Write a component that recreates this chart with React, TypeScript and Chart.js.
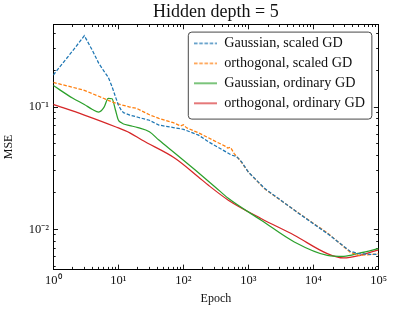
import React, { useEffect, useRef } from 'react';
import { Chart, registerables } from 'chart.js';

Chart.register(...registerables);

const FONT = '"Liberation Serif", "Times New Roman", serif';
const TEXT = '#111111';

// ---- data ----
const GAUSS_SCALED_X = [1, 2, 3, 4, 5, 6, 7, 8, 9, 10, 11, 12, 15, 20, 30, 42, 70, 100, 171, 243, 350, 549, 650, 780, 1000, 1770, 5300, 16900, 36500, 50000, 74000, 100000];
const GAUSS_SCALED_Y = [0.183, 0.29, 0.384, 0.29, 0.228, 0.197, 0.175, 0.147, 0.122, 0.104, 0.095, 0.09, 0.086, 0.0825, 0.078, 0.0712, 0.068, 0.0657, 0.0589, 0.0519, 0.0465, 0.0404, 0.0395, 0.0357, 0.0293, 0.0216, 0.01407, 0.0091, 0.0066, 0.0063, 0.00624, 0.00624];

const ORTHO_SCALED_X = [1, 2, 3, 5, 8, 10, 15, 19, 30, 42, 70, 90, 100, 112, 171, 300, 436, 480, 530, 600, 738, 1000, 1770, 5300, 16900, 36500, 50000, 74000, 100000];
const ORTHO_SCALED_Y = [0.159, 0.145, 0.137, 0.1225, 0.11, 0.106, 0.1, 0.0976, 0.0865, 0.0808, 0.0745, 0.07, 0.0716, 0.0676, 0.0615, 0.0529, 0.0479, 0.0462, 0.0468, 0.0418, 0.0368, 0.0293, 0.0214, 0.0141, 0.0092, 0.0065, 0.0061, 0.0062, 0.0063];

const GAUSS_ORD_X = [1, 2, 3, 4, 5, 6, 7, 8, 9, 10, 11, 12, 15, 20, 30, 42, 75, 152, 307, 489, 1570, 5070, 16300, 29200, 52300, 100000];
const GAUSS_ORD_Y = [0.15, 0.118, 0.105, 0.0955, 0.091, 0.0993, 0.118, 0.117, 0.095, 0.0782, 0.0746, 0.0726, 0.0705, 0.0679, 0.0628, 0.0537, 0.0417, 0.0305, 0.0222, 0.0179, 0.01186, 0.00787, 0.00612, 0.00601, 0.0064, 0.00695];

const ORTHO_ORD_X = [1, 3, 9, 15, 23, 75, 170, 240, 490, 1560, 5060, 16300, 29000, 52000, 100000];
const ORTHO_ORD_Y = [0.105, 0.086, 0.069, 0.0615, 0.0537, 0.038, 0.0268, 0.023, 0.0173, 0.01224, 0.00893, 0.00632, 0.00582, 0.00612, 0.00679];

const SERIES_LABELS = ['Gaussian, scaled GD', 'orthogonal, scaled GD', 'Gaussian, ordinary GD', 'orthogonal, ordinary GD'];
const SERIES_COLORS = ['#1f77b4', '#ff7f0e', '#2ca02c', '#d62728'];

const X_MAJOR = [1, 10, 100, 1000, 10000, 100000];
const X_TICK_LABELS = ['10⁰', '10¹', '10²', '10³', '10⁴', '10⁵'];
const Y_MAJOR = [0.01, 0.1];
const Y_TICK_LABELS = ['10⁻²', '10⁻¹'];
const MINOR_STEPS = [2, 3, 4, 5, 6, 7, 8, 9];

const X_MIN = 1;
const X_MAX = 100000;
const Y_MIN = 0.0047;
const Y_MAX = 0.473;

const LINE_W = 1.25;
const DASH = [3.5, 1.7];

function minorTicks(majors: number[], min: number, max: number) {
  const out: number[] = [];
  const decades = [majors[0] / 10, ...majors];
  for (const d of decades) {
    for (const s of MINOR_STEPS) {
      const v = d * s;
      if (v >= min && v <= max) out.push(v);
    }
  }
  return out;
}

const pts = (xs: number[], ys: number[]) => xs.map((x, i) => ({ x, y: ys[i] }));

const MAJOR_LEN = -4.7;
const MINOR_LEN = -2.4;
const TICK_W = 0.9;

function makeAxis(opts: {
  dir: 'x' | 'y';
  position: string;
  major: boolean;
  labels: boolean;
  size: number;
}) {
  const { dir, position, major, labels, size } = opts;
  const majors = dir === 'x' ? X_MAJOR : Y_MAJOR;
  const names = dir === 'x' ? X_TICK_LABELS : Y_TICK_LABELS;
  const min = dir === 'x' ? X_MIN : Y_MIN;
  const max = dir === 'x' ? X_MAX : Y_MAX;
  const values = major ? majors : minorTicks(majors, min, max);
  return {
    type: 'logarithmic',
    axis: dir,
    position,
    min,
    max,
    bounds: 'data',
    weight: major ? 1 : 0,
    afterBuildTicks: (s: any) => {
      s.ticks = values.map((v) => ({ value: v }));
    },
    afterFit: (s: any) => {
      if (dir === 'x') s.height = size;
      else s.width = size;
    },
    ticks: {
      display: labels,
      autoSkip: false,
      maxRotation: 0,
      minRotation: 0,
      padding: 9,
      color: TEXT,
      font: { family: FONT, size: 12.5 },
      callback: (v: number) => {
        const i = majors.indexOf(v);
        return i >= 0 ? names[i] : '';
      },
    },
    grid: {
      display: true,
      drawOnChartArea: false,
      drawTicks: true,
      tickLength: major ? MAJOR_LEN : MINOR_LEN,
      tickColor: '#000',
      tickWidth: TICK_W,
    },
    border: { display: major, color: '#000', width: 1 },
    title: { display: false },
  };
}

function legendSample(color: string, dash: number[]) {
  const c = document.createElement('canvas');
  c.width = 23;
  c.height = 4;
  const g = c.getContext('2d');
  if (g) {
    g.strokeStyle = color;
    g.lineWidth = LINE_W;
    g.setLineDash(dash);
    g.beginPath();
    g.moveTo(0, 2);
    g.lineTo(23, 2);
    g.stroke();
  }
  return c;
}

const legendFrame = {
  id: 'legendFrame',
  beforeDraw(chart: any) {
    const { ctx, chartArea: ca, legend } = chart;
    ctx.save();
    ctx.fillStyle = '#ffffff';
    ctx.fillRect(0, 0, chart.width, chart.height);
    ctx.restore();
    if (!legend || !ca) return;
    const fw = legend.width - 3;
    legend.left = ca.right - 6.7 - fw;
    legend.right = legend.left + legend.width;
    legend.top = ca.top + 5.8;
    legend.bottom = legend.top + 95;
    const fx = legend.left;
    const fy = legend.top + 1.7;
    const fh = 87;
    const r = 3.5;
    ctx.save();
    ctx.beginPath();
    ctx.moveTo(fx + r, fy);
    ctx.lineTo(fx + fw - r, fy);
    ctx.arcTo(fx + fw, fy, fx + fw, fy + r, r);
    ctx.lineTo(fx + fw, fy + fh - r);
    ctx.arcTo(fx + fw, fy + fh, fx + fw - r, fy + fh, r);
    ctx.lineTo(fx + r, fy + fh);
    ctx.arcTo(fx, fy + fh, fx, fy + fh - r, r);
    ctx.lineTo(fx, fy + r);
    ctx.arcTo(fx, fy, fx + r, fy, r);
    ctx.closePath();
    ctx.fillStyle = 'rgba(255,255,255,0.8)';
    ctx.fill();
    ctx.strokeStyle = '#333333';
    ctx.lineWidth = 0.9;
    ctx.stroke();
    ctx.restore();
  },
};

export default function App() {
  const ref = useRef<HTMLCanvasElement>(null);

  useEffect(() => {
    document.body.style.margin = '0';
    const canvas = ref.current;
    if (!canvas) return;

    const xBottom: any = makeAxis({ dir: 'x', position: 'bottom', major: true, labels: true, size: 41.7 });
    xBottom.title = {
      display: true,
      text: 'Epoch',
      color: TEXT,
      font: { family: FONT, size: 12 },
      padding: { top: 0, bottom: 5 },
    };
    const yLeft: any = makeAxis({ dir: 'y', position: 'left', major: true, labels: true, size: 53.3 });
    yLeft.title = {
      display: true,
      text: 'MSE',
      color: TEXT,
      font: { family: FONT, size: 12 },
      padding: { top: 1.2, bottom: 0 },
    };

    const specs = [
      { data: pts(GAUSS_SCALED_X, GAUSS_SCALED_Y), dash: DASH, tension: 0 },
      { data: pts(ORTHO_SCALED_X, ORTHO_SCALED_Y), dash: DASH, tension: 0 },
      { data: pts(GAUSS_ORD_X, GAUSS_ORD_Y), dash: [] as number[], tension: 0.4 },
      { data: pts(ORTHO_ORD_X, ORTHO_ORD_Y), dash: [] as number[], tension: 0.4 },
    ];
    const samples = specs.map((s, i) => legendSample(SERIES_COLORS[i], s.dash));

    const datasets = specs.map((d, i) => ({
      label: SERIES_LABELS[i],
      data: d.data,
      borderColor: SERIES_COLORS[i],
      backgroundColor: SERIES_COLORS[i],
      borderWidth: LINE_W,
      borderDash: d.dash,
      tension: d.tension,
      cubicInterpolationMode: d.tension > 0 ? 'monotone' : 'default',
      pointRadius: 0,
      pointHitRadius: 0,
      fill: false,
      xAxisID: 'x',
      yAxisID: 'y',
    }));

    const defaultLabels = (Chart.defaults.plugins.legend.labels as any).generateLabels;

    const chart = new Chart(canvas, {
      type: 'line',
      data: { datasets } as any,
      options: {
        responsive: false,
        animation: false,
        devicePixelRatio: 1,
        events: [],
        layout: { padding: { left: 0, right: 14.3, top: 0, bottom: 0 } },
        scales: {
          x: xBottom,
          xMinor: makeAxis({ dir: 'x', position: 'bottom', major: false, labels: false, size: 0 }),
          xTop: makeAxis({ dir: 'x', position: 'top', major: true, labels: false, size: 0 }),
          xTopMinor: makeAxis({ dir: 'x', position: 'top', major: false, labels: false, size: 0 }),
          y: yLeft,
          yMinor: makeAxis({ dir: 'y', position: 'left', major: false, labels: false, size: 0 }),
          yRight: makeAxis({ dir: 'y', position: 'right', major: true, labels: false, size: 0 }),
          yRightMinor: makeAxis({ dir: 'y', position: 'right', major: false, labels: false, size: 0 }),
        } as any,
        plugins: {
          title: {
            display: true,
            text: 'Hidden depth = 5',
            fullSize: false,
            color: TEXT,
            font: { family: FONT, size: 18, weight: 'normal' },
            padding: { top: 1, bottom: 2 },
          },
          legend: {
            display: true,
            position: 'chartArea',
            align: 'start',
            labels: {
              color: TEXT,
              font: { family: FONT, size: 14.2 },
              usePointStyle: true,
              pointStyleWidth: 23,
              boxHeight: 14,
              padding: 5.8,
              generateLabels: (ch: any) =>
                defaultLabels(ch).map((item: any) => ({
                  ...item,
                  pointStyle: samples[item.datasetIndex],
                })),
            },
          },
          tooltip: { enabled: false },
        },
      } as any,
      plugins: [legendFrame],
    });

    return () => chart.destroy();
  }, []);

  return (
    <div style={{ width: 396, height: 311 }}>
      <canvas ref={ref} width={396} height={311} style={{ display: 'block' }} />
    </div>
  );
}
